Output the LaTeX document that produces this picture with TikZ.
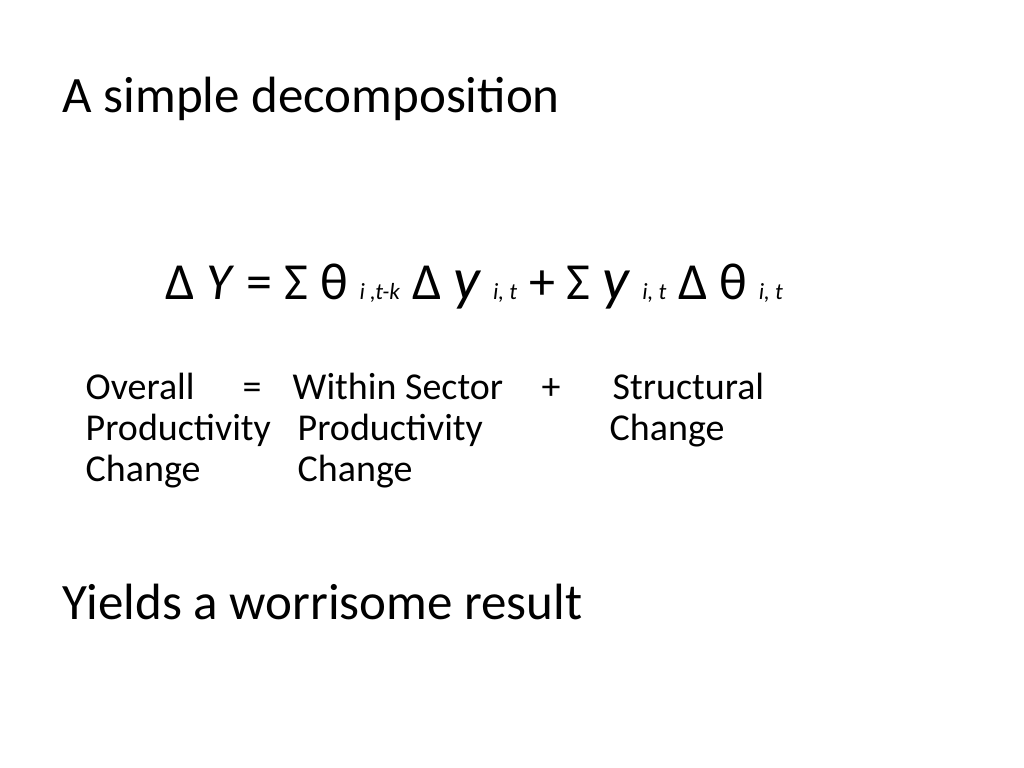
\documentclass[tikz,border=0pt]{standalone}
\usepackage{fontspec}
\setmainfont{Carlito}
\begin{document}
\begin{tikzpicture}[x=0.01cm,y=-0.01cm,
  ttl/.style={anchor=base west,inner sep=0pt,font=\fontsize{14.5pt}{17pt}\selectfont},
  eqf/.style={anchor=base west,inner sep=0pt,font=\fontsize{14.8pt}{17pt}\selectfont},
  lbl/.style={anchor=base west,inner sep=0pt,font=\fontsize{10.8pt}{13pt}\selectfont}]
\useasboundingbox (0,0) rectangle (1024,768);
\node[ttl] (title) at (62,113) {A simple decomposition};
\node[eqf] (eq) at (165,300) {Δ \textit{Y} = Σ θ {\fontsize{6.6pt}{8pt}\selectfont\textit{i ,t-k}} Δ {\fontsize{17pt}{19pt}\selectfont\textit{y}} {\fontsize{6.6pt}{8pt}\selectfont\textit{i, t}} + Σ {\fontsize{17pt}{19pt}\selectfont\textit{y}} {\fontsize{6.6pt}{8pt}\selectfont\textit{i, t}} Δ θ {\fontsize{6.6pt}{8pt}\selectfont\textit{i, t}}};
\node[lbl] (l1) at (85,400) {Overall};
\node[lbl] (l2) at (85,441) {Productivity};
\node[lbl] (l3) at (85,482) {Change};
\node[lbl] (eqs) at (242,400) {=};
\node[lbl] (w1) at (292,400) {Within Sector};
\node[lbl] (w2) at (297,441) {Productivity};
\node[lbl] (w3) at (297,482) {Change};
\node[lbl] (pl) at (541,400) {+};
\node[lbl] (s1) at (612,400) {Structural};
\node[lbl] (s2) at (609,441) {Change};
\node[ttl] (yields) at (62,620) {Yields a worrisome result};
\end{tikzpicture}
\end{document}
